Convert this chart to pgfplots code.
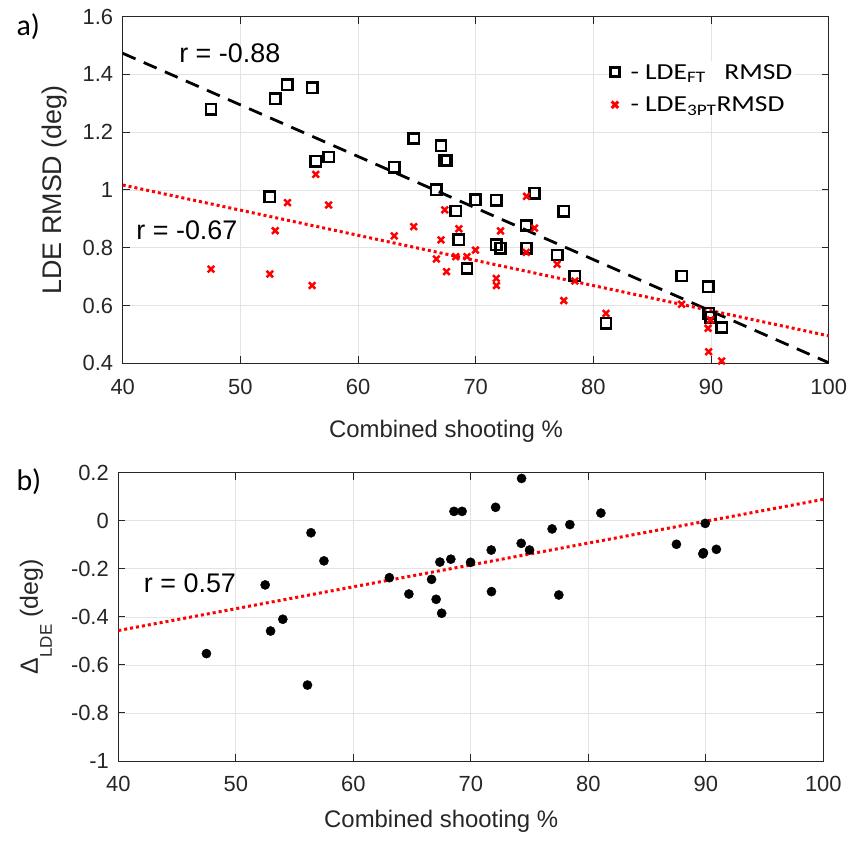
\documentclass[border=0pt]{standalone}
\usepackage{fontspec}
\setmainfont{Liberation Sans}
\newfontfamily\calfont{Carlito}
\newfontfamily\legfont[FakeStretch=1.2]{Carlito}
\usepackage{pgfplots}
\usepackage{pgfplotstable}
\pgfplotsset{compat=1.18}
\definecolor{axgray}{HTML}{262626}
\definecolor{mred}{HTML}{FF0000}

% shooting %, LDE_FT RMSD, LDE_3PT RMSD, delta (3PT - FT)
\pgfplotstableread{
x     ft     tpt    d
47.50 1.279  0.726  -0.553
52.50 0.977  0.709  -0.267
52.96 1.315  0.859  -0.459
54.00 1.364  0.956  -0.410
56.10 1.354  0.669  -0.684
56.40 1.100  1.054  -0.050
57.50 1.114  0.948  -0.167
63.07 1.079  0.841  -0.237
64.73 1.178  0.873  -0.305
66.66 1.001  0.761  -0.244
67.05 1.153  0.827  -0.327
67.37 1.103  0.931  -0.172
67.52 1.102  0.717  -0.385
68.30 0.927  0.769  -0.160
68.57 0.828  0.866   0.039
69.26 0.728  0.769   0.039
69.98 0.966  0.792  -0.173
71.74 0.810  0.694  -0.122
71.76 0.965  0.669  -0.295
72.11 0.798  0.858   0.056
74.32 0.798  0.978   0.176
74.29 0.877  0.784  -0.094
75.00 0.989  0.868  -0.122
76.92 0.775  0.743  -0.034
77.49 0.926  0.617  -0.309
78.43 0.702  0.685  -0.016
81.07 0.539  0.573   0.032
87.50 0.702  0.604  -0.098
89.95 0.560  0.550  -0.011
89.75 0.665  0.521  -0.138
89.80 0.573  0.440  -0.133
90.90 0.524  0.408  -0.119
}\lde

\pgfplotsset{
  mstyle/.style={
    scale only axis,
    xmin=40, xmax=100, xtick={40,50,60,70,80,90,100},
    grid=major, grid style={gray!22, line width=0.7pt},
    axis line style={axgray, line width=1pt},
    tick style={axgray, line width=1pt},
    tick align=inside, major tick length=7bp,
    tick label style={font=\fontsize{22}{26}\selectfont, text=axgray},
    /pgf/number format/assume math mode=true,
    xticklabel style={yshift=-12bp},
    yticklabel style={xshift=-6bp},
    label style={text=axgray},
  }
}

\begin{document}
\begin{tikzpicture}
\useasboundingbox (0,0) rectangle (850bp,841bp);

\begin{axis}[mstyle,
  at={(122.7bp,477.7bp)}, anchor=south west,
  width=706bp, height=346.7bp,
  ymin=0.4, ymax=1.6, ytick={0.4,0.6,0.8,1,1.2,1.4,1.6},
  xlabel={Combined shooting \%},
  xlabel style={font=\fontsize{24}{28}\selectfont, at={(axis description cs:0.458,0)}, anchor=base, yshift=-74bp},
  ylabel={LDE RMSD (deg)},
  ylabel style={font=\fontsize{27}{30}\selectfont, at={(axis description cs:-0.087,0.5)}, anchor=base},
  legend style={at={(rel axis cs:0.689,0.872)}, anchor=north west, draw=none, fill=white,
    font=\legfont\fontsize{23}{27}\selectfont, row sep=12bp, inner sep=1bp,
    /tikz/every odd column/.append style={column sep=9bp}},
  legend cell align=left,
  legend image code/.code={\draw[#1, mark size=4.6bp, line width=3bp] plot coordinates {(0bp,0bp)};},
]
\addplot[only marks, mark=square, mark size=5.2bp, line width=2.5bp, black]
  table[x=x, y=ft] {\lde};
\addlegendentry{- LDE\textsubscript{FT}\ \ \ RMSD}
\addplot[only marks, mark=x, mark size=4.6bp, line width=2.5bp, mred]
  table[x=x, y=tpt] {\lde};
\addlegendentry{- LDE\textsubscript{3PT}RMSD}
\addplot[forget plot, black, line width=2.8bp, dash pattern=on 14bp off 9bp]
  coordinates {(40,1.473) (100,0.402)};
\addplot[forget plot, mred, line width=3bp, dash pattern=on 3bp off 3bp]
  coordinates {(40,1.017) (100,0.495)};
\node[font=\fontsize{27}{30}\selectfont] at (axis cs:49.1,1.474) {r = -0.88};
\node[font=\fontsize{27}{30}\selectfont] at (axis cs:45.46,0.862) {r = -0.67};
\end{axis}

\begin{axis}[mstyle,
  at={(118.3bp,80bp)}, anchor=south west,
  width=705bp, height=288.3bp,
  ymin=-1, ymax=0.2, ytick={-1,-0.8,-0.6,-0.4,-0.2,0,0.2},
  xlabel={Combined shooting \%},
  xlabel style={font=\fontsize{24}{28}\selectfont, at={(axis description cs:0.458,0)}, anchor=base, yshift=-66.3bp},
  ylabel={Δ\raisebox{-14bp}{\fontsize{17}{20}\selectfont LDE} (deg)},
  ylabel style={font=\fontsize{25}{30}\selectfont, at={(axis description cs:-0.114,0.5)}, anchor=base},
]
\addplot[only marks, mark=*, mark size=4.6bp, black]
  table[x=x, y=d] {\lde};
\addplot[mred, line width=3bp, dash pattern=on 3bp off 3bp]
  coordinates {(40,-0.457) (100,0.089)};
\node[font=\fontsize{27}{30}\selectfont] at (axis cs:46.1,-0.259) {r = 0.57};
\end{axis}

\node[font=\calfont\fontsize{30}{34}\selectfont, anchor=base west] at (13bp,805bp) {a)};
\node[font=\calfont\fontsize{30}{34}\selectfont, anchor=base west] at (13bp,350bp) {b)};
\end{tikzpicture}
\end{document}
